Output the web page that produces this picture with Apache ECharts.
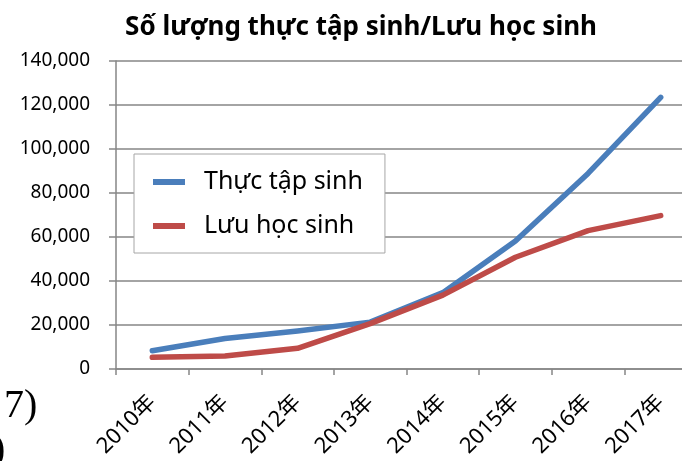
<!DOCTYPE html>
<html>
<head>
<meta charset="utf-8">
<script src="https://cdn.jsdelivr.net/npm/echarts@6/dist/echarts.min.js"></script>
<style>
html,body{margin:0;padding:0;background:#fff;overflow:hidden;width:682px;height:461px;}
#c{width:700px;height:461px;}
</style>
</head>
<body>
<div id="c"></div>
<script>
var categories = ['2010年','2011年','2012年','2013年','2014年','2015年','2016年','2017年'];
var thucTapSinh = [8300, 13900, 17300, 21300, 34700, 58200, 88900, 123500];
var luuHocSinh = [5300, 5900, 9400, 20600, 33600, 50800, 62900, 69700];
var yTicks = [0, 20000, 40000, 60000, 80000, 100000, 120000, 140000];
var titleText = 'Số lượng thực tập sinh/Lưu học sinh';
var seriesNames = ['Thực tập sinh', 'Lưu học sinh'];

var chart = echarts.init(document.getElementById('c'), null, {renderer: 'canvas'});
var font = '"Noto Sans", "Noto Sans CJK JP", sans-serif';
var gray = '#868686';
chart.setOption({
  animation: false,
  backgroundColor: '#fff',
  title: {
    text: titleText,
    left: 356, top: 10, textAlign: 'center',
    textStyle: {fontFamily: font, fontWeight: 'bold', fontSize: 26, color: '#000'}
  },
  legend: {
    data: seriesNames,
    orient: 'vertical',
    left: 134, top: 154,
    padding: [13, 22, 12, 19],
    itemGap: 14,
    itemWidth: 32, itemHeight: 6,
    icon: 'rect',
    backgroundColor: '#fff',
    borderColor: '#a6a6a6', borderWidth: 1,
    textStyle: {fontFamily: font, fontSize: 25, lineHeight: 30, color: '#000', padding: [0,0,0,14]}
  },
  grid: {left: 116, right: 3, top: 61, bottom: 92, containLabel: false},
  xAxis: {
    type: 'category',
    data: categories,
    boundaryGap: true,
    axisLine: {lineStyle: {color: gray, width: 1.5}},
    axisTick: {show: true, length: 6, lineStyle: {color: gray, width: 1.5}},
    axisLabel: {rotate: 45, fontFamily: font, fontSize: 22, color: '#000', margin: 30}
  },
  yAxis: {
    type: 'value',
    min: 0, max: 140000, interval: 20000,
    axisLine: {show: true, lineStyle: {color: gray, width: 1.5}},
    axisTick: {show: true, length: 7, lineStyle: {color: gray, width: 1.5}},
    splitLine: {show: true, lineStyle: {color: gray, width: 1.5}},
    axisLabel: {
      fontFamily: font, fontSize: 19, color: '#000', margin: 26,
      formatter: function (v) { return yTicks.indexOf(v) >= 0 ? v.toLocaleString('en-US') : ''; }
    }
  },
  series: [
    {name: seriesNames[0], type: 'line', data: thucTapSinh, symbol: 'none',
     lineStyle: {color: '#4A7EBB', width: 5.5, cap: 'round', join: 'round'}, itemStyle: {color: '#4A7EBB'}},
    {name: seriesNames[1], type: 'line', data: luuHocSinh, symbol: 'none',
     lineStyle: {color: '#BE4B48', width: 5.5, cap: 'round', join: 'round'}, itemStyle: {color: '#BE4B48'}}
  ],
  graphic: [
    {type: 'text', left: 4, top: 386, style: {text: '7)', fontFamily: '"Liberation Serif", serif', fontSize: 40, fill: '#000'}},
    {type: 'text', left: -8, top: 430, style: {text: ')', fontFamily: '"Liberation Serif", serif', fontSize: 40, fill: '#000'}}
  ]
});
</script>
</body>
</html>
